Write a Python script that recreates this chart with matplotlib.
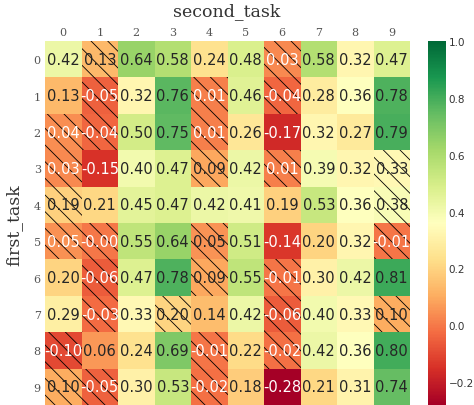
import matplotlib
matplotlib.use("Agg")
import matplotlib.pyplot as plt
from matplotlib.patches import Rectangle
import numpy as np

first_task = list(range(10))
second_task = list(range(10))

values = [
    [0.42, 0.13, 0.64, 0.58, 0.24, 0.48, 0.03, 0.58, 0.32, 0.47],
    [0.13, -0.05, 0.32, 0.76, 0.01, 0.46, -0.04, 0.28, 0.36, 0.78],
    [0.04, -0.04, 0.50, 0.75, 0.01, 0.26, -0.17, 0.32, 0.27, 0.79],
    [0.03, -0.15, 0.40, 0.47, 0.09, 0.42, 0.01, 0.39, 0.32, 0.33],
    [0.19, 0.21, 0.45, 0.47, 0.42, 0.41, 0.19, 0.53, 0.36, 0.38],
    [0.048, -0.004, 0.55, 0.64, 0.052, 0.51, -0.14, 0.20, 0.32, -0.01],
    [0.20, -0.06, 0.47, 0.78, 0.09, 0.55, -0.01, 0.30, 0.42, 0.81],
    [0.29, -0.03, 0.33, 0.20, 0.14, 0.42, -0.06, 0.40, 0.33, 0.10],
    [-0.10, 0.06, 0.24, 0.69, -0.01, 0.22, -0.02, 0.42, 0.36, 0.80],
    [0.10, -0.05, 0.30, 0.53, -0.02, 0.18, -0.28, 0.21, 0.31, 0.74],
]

# cells that are hatched
hatched = [
    [1, 6],
    [1, 4, 6],
    [0, 1, 4],
    [0, 4, 6, 9],
    [0, 9],
    [0, 1, 4, 9],
    [1, 4, 6],
    [1, 3, 6, 9],
    [0, 4, 6],
    [0, 1, 4],
]

data = np.array(values)
vmin, vmax = data.min(), 1.0

fig = plt.figure(figsize=(4.74, 4.06), dpi=100)
W, H = 474, 406
ax = fig.add_axes([45 / W, 0, 365 / W, (406 - 42) / H])
cax = fig.add_axes([428 / W, 0, 18 / W, (406 - 42) / H])

mesh = ax.pcolormesh(data, cmap="RdYlGn", vmin=vmin, vmax=vmax)
ax.set_xlim(0, 10)
ax.set_ylim(10, 0)

plt.rcParams["hatch.linewidth"] = 0.6
for i in range(10):
    for j in range(10):
        v = data[i, j]
        color = "white" if v < 0.05 else "#262626"
        ax.text(j + 0.5, i + 0.5, f"{v:.2f}", ha="center", va="center",
                fontsize=10.5, color=color)
    for j in hatched[i]:
        ax.add_patch(Rectangle((j, i), 1, 1, fill=False, hatch="\\\\",
                               edgecolor="black", linewidth=0))

ax.xaxis.tick_top()
ax.set_xticks(np.arange(10) + 0.5, second_task)
ax.set_yticks(np.arange(10) + 0.5, first_task)
ax.tick_params(length=0, labelsize=8, colors="#555555", pad=3)
for lab in ax.get_xticklabels() + ax.get_yticklabels():
    lab.set_family("DejaVu Serif")
for s in ax.spines.values():
    s.set_visible(False)

fig.text(227 / W, 1 - 12 / H, "second_task", ha="center", va="center",
         fontsize=12.5, family="DejaVu Serif", color="#333333")
fig.text(14 / W, 1 - 225 / H, "first_task", ha="center", va="center",
         rotation=90, fontsize=12.5, family="DejaVu Serif", color="#333333")

cb = fig.colorbar(mesh, cax=cax)
cb.outline.set_visible(False)
cb.ax.tick_params(length=0, labelsize=7.5, colors="#333333", pad=2)

fig.savefig("out.png", dpi=100)
